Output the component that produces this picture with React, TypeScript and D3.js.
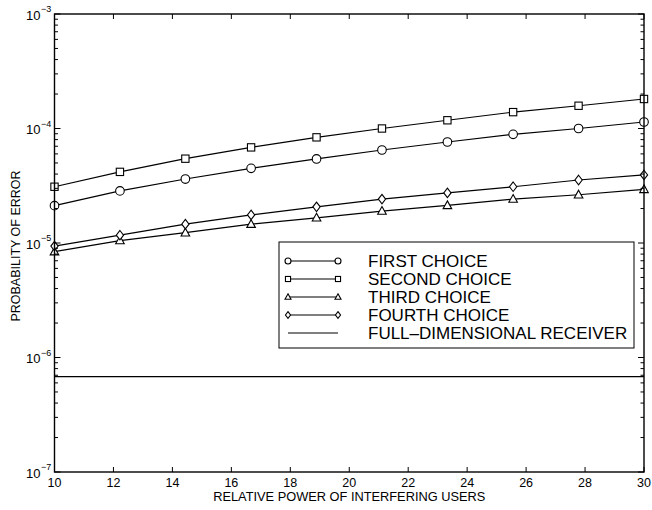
import React from "react";
import * as d3 from "d3";

// Relative power of interfering users (x) and error probabilities per receiver choice
const powers = [10, 12.22, 14.44, 16.67, 18.89, 21.11, 23.33, 25.56, 27.78, 30];
const firstChoice = [2.12e-5, 2.85e-5, 3.62e-5, 4.49e-5, 5.42e-5, 6.49e-5, 7.62e-5, 8.89e-5, 1.0e-4, 1.14e-4];
const secondChoice = [3.1e-5, 4.18e-5, 5.45e-5, 6.84e-5, 8.37e-5, 1.0e-4, 1.18e-4, 1.39e-4, 1.58e-4, 1.81e-4];
const thirdChoice = [8.4e-6, 1.05e-5, 1.23e-5, 1.46e-5, 1.66e-5, 1.9e-5, 2.13e-5, 2.42e-5, 2.64e-5, 2.94e-5];
const fourthChoice = [9.4e-6, 1.17e-5, 1.46e-5, 1.76e-5, 2.07e-5, 2.42e-5, 2.74e-5, 3.1e-5, 3.55e-5, 3.93e-5];
const fullDimensional = 6.8e-7;

const xTicks = [10, 12, 14, 16, 18, 20, 22, 24, 26, 28, 30];
const yExponents = [-3, -4, -5, -6, -7];

const seriesNames = ["FIRST CHOICE", "SECOND CHOICE", "THIRD CHOICE", "FOURTH CHOICE"];
const seriesValues = [firstChoice, secondChoice, thirdChoice, fourthChoice];
const seriesMarkers = ["circle", "square", "triangle", "diamond"];
const fullName = "FULL\u2013DIMENSIONAL RECEIVER";

const W = 652;
const H = 510;
const left = 54.5;
const right = 644;
const top = 14;
const bottom = 472;
const FONT = "'Liberation Sans', Arial, Helvetica, sans-serif";

const x = d3.scaleLinear().domain([10, 30]).range([left, right]);
const y = d3.scaleLog().domain([1e-7, 1e-3]).range([bottom, top]);

function Marker({ kind, cx, cy, s }: { kind: string; cx: number; cy: number; s: number }) {
  const common = { fill: "white", stroke: "#000", strokeWidth: 1.1 };
  if (kind === "circle") return <circle cx={cx} cy={cy} r={s} {...common} />;
  if (kind === "square")
    return <rect x={cx - s * 0.85} y={cy - s * 0.85} width={s * 1.7} height={s * 1.7} {...common} />;
  if (kind === "triangle") {
    const p = d3.path();
    p.moveTo(cx, cy - s * 1.05);
    p.lineTo(cx + s * 1.0, cy + s * 0.75);
    p.lineTo(cx - s * 1.0, cy + s * 0.75);
    p.closePath();
    return <path d={p.toString()} {...common} />;
  }
  const p = d3.path();
  p.moveTo(cx, cy - s * 1.1);
  p.lineTo(cx + s * 0.85, cy);
  p.lineTo(cx, cy + s * 1.1);
  p.lineTo(cx - s * 0.85, cy);
  p.closePath();
  return <path d={p.toString()} {...common} />;
}

export default function App() {
  const line = d3
    .line<number>()
    .x((_, i) => x(powers[i]))
    .y((d) => y(d));

  // Minor log ticks 2..9 within each decade
  const minor: number[] = [];
  for (let e = -7; e < -3; e++) {
    for (let m = 2; m <= 9; m++) minor.push(m * Math.pow(10, e));
  }

  const legX = 279;
  const legY = 242;
  const legW = 355;
  const legH = 106;
  const rowY = (i: number) => 261 + i * 18;

  return (
    <svg
      width={W}
      height={H}
      style={{ position: "absolute", left: 0, top: 0, background: "white" }}
      fontFamily={FONT}
    >
      <rect x={0} y={0} width={W} height={H} fill="white" />

      {/* series lines */}
      {seriesValues.map((vals, k) => (
        <path key={"l" + k} d={line(vals) || ""} fill="none" stroke="#000" strokeWidth={1.2} />
      ))}
      <line
        x1={x(10)}
        x2={x(30)}
        y1={y(fullDimensional)}
        y2={y(fullDimensional)}
        stroke="#000"
        strokeWidth={1.3}
      />

      {/* markers */}
      {seriesValues.map((vals, k) =>
        vals.map((v, i) => (
          <Marker key={`m${k}-${i}`} kind={seriesMarkers[k]} cx={x(powers[i])} cy={y(v)} s={4.3} />
        ))
      )}

      {/* frame */}
      <rect x={left} y={top} width={right - left} height={bottom - top} fill="none" stroke="#000" strokeWidth={1.4} />

      {/* x ticks */}
      {xTicks.map((t) => (
        <g key={"xt" + t}>
          <line x1={x(t)} x2={x(t)} y1={bottom} y2={bottom - 5} stroke="#000" strokeWidth={1} />
          <line x1={x(t)} x2={x(t)} y1={top} y2={top + 5} stroke="#000" strokeWidth={1} />
          <text x={x(t)} y={487} textAnchor="middle" fontSize={12.5}>
            {t}
          </text>
        </g>
      ))}

      {/* y ticks */}
      {yExponents.map((e) => {
        const yy = y(Math.pow(10, e));
        return (
          <g key={"yt" + e}>
            <line x1={left} x2={left + 6} y1={yy} y2={yy} stroke="#000" strokeWidth={1} />
            <line x1={right} x2={right - 6} y1={yy} y2={yy} stroke="#000" strokeWidth={1} />
            <text x={40.5} y={yy + 5.5} textAnchor="end" fontSize={13}>
              10
            </text>
            <text x={41} y={yy - 2} textAnchor="start" fontSize={9}>
              {"\u2212" + Math.abs(e)}
            </text>
          </g>
        );
      })}
      {minor.map((v, i) => {
        const yy = y(v);
        return (
          <g key={"ym" + i}>
            <line x1={left} x2={left + 3.5} y1={yy} y2={yy} stroke="#000" strokeWidth={1} />
            <line x1={right} x2={right - 3.5} y1={yy} y2={yy} stroke="#000" strokeWidth={1} />
          </g>
        );
      })}

      {/* axis titles */}
      <text x={(left + right) / 2} y={501} textAnchor="middle" fontSize={12.8}>
        RELATIVE POWER OF INTERFERING USERS
      </text>
      <text
        transform={`translate(19.5, ${(top + bottom) / 2 + 3}) rotate(-90)`}
        textAnchor="middle"
        fontSize={12.5}
      >
        PROBABILITY OF ERROR
      </text>

      {/* legend */}
      <rect x={legX} y={legY} width={legW} height={legH} fill="white" stroke="#000" strokeWidth={1} />
      {seriesNames.map((name, k) => (
        <g key={"lg" + k}>
          <line x1={288} x2={338} y1={rowY(k)} y2={rowY(k)} stroke="#000" strokeWidth={1.1} />
          <Marker kind={seriesMarkers[k]} cx={288} cy={rowY(k)} s={3} />
          <Marker kind={seriesMarkers[k]} cx={338} cy={rowY(k)} s={3} />
          <text x={368} y={rowY(k) + 6} fontSize={17}>
            {name}
          </text>
        </g>
      ))}
      <line x1={288} x2={338} y1={rowY(4)} y2={rowY(4)} stroke="#000" strokeWidth={1.1} />
      <text x={368} y={rowY(4) + 6} fontSize={17}>
        {fullName}
      </text>
    </svg>
  );
}
